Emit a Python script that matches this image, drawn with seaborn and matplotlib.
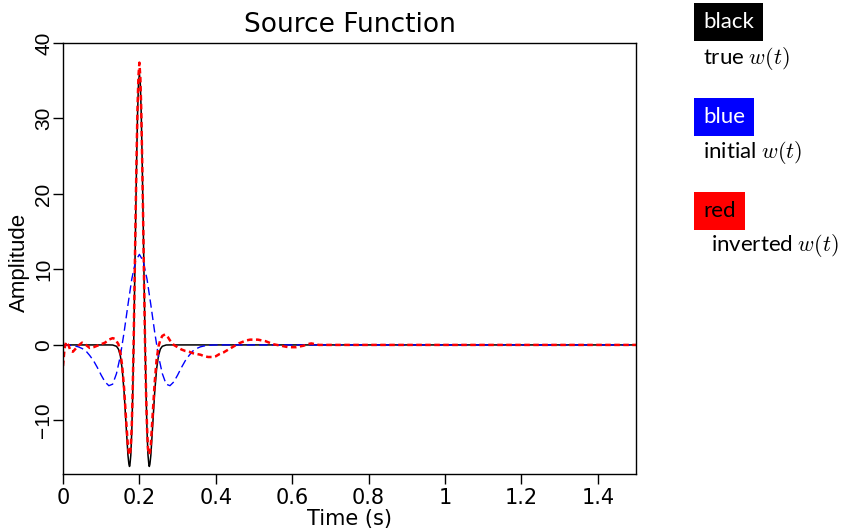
import numpy as np
import pandas as pd
import seaborn as sns
import matplotlib
matplotlib.use("Agg")
import matplotlib.pyplot as plt

# ---- data ----
t_true = [0.0, 0.12, 0.13, 0.14, 0.145, 0.15, 0.155, 0.16, 0.165, 0.17, 0.1725, 0.174, 0.175,
          0.1775, 0.18, 0.1825, 0.185, 0.1875, 0.19, 0.1925, 0.195, 0.1975, 0.2,
          0.2025, 0.205, 0.2075, 0.21, 0.2125, 0.215, 0.2175, 0.22, 0.2225, 0.225, 0.226,
          0.2275, 0.23, 0.235, 0.24, 0.245, 0.25, 0.255, 0.26, 0.27, 0.28, 1.5]
w_true = [0.0, 0.0, -0.01, -0.18, -0.54, -1.4, -3.2, -6.3, -10.5, -14.6, -15.8, -16.1, -16.0,
          -14.6, -11.5, -6.6, 0.0, 7.8, 16.0, 23.8, 30.3, 34.5, 36.0,
          34.5, 30.3, 23.8, 16.0, 7.8, 0.0, -6.6, -11.5, -14.6, -16.0, -16.1,
          -15.8, -14.6, -10.5, -6.3, -3.2, -1.4, -0.54, -0.18, -0.01, 0.0, 0.0]

t_init = [0.0, 0.01, 0.02, 0.03, 0.04, 0.05, 0.06, 0.07, 0.08, 0.09, 0.10, 0.11, 0.12,
          0.13, 0.14, 0.15, 0.16, 0.17, 0.18, 0.19, 0.20, 0.21, 0.22, 0.23, 0.24, 0.25,
          0.26, 0.27, 0.28, 0.29, 0.30, 0.31, 0.32, 0.33, 0.34, 0.35, 0.36, 0.37, 0.38,
          0.39, 0.40, 1.5]
w_init = [0.0, -0.02, -0.06, -0.13, -0.25, -0.47, -0.8, -1.4, -2.1, -3.0, -4.0, -4.9, -5.4,
          -5.2, -3.8, -1.5, 1.7, 5.3, 8.7, 11.1, 12.0, 11.1, 8.7, 5.3, 1.7, -1.5,
          -3.8, -5.2, -5.4, -4.9, -4.0, -3.0, -2.1, -1.4, -0.8, -0.47, -0.25, -0.13, -0.06,
          -0.02, 0.0, 0.0]

t_inv = [0.0, 0.004, 0.008, 0.014, 0.02, 0.026, 0.033, 0.04, 0.05, 0.06, 0.07, 0.08, 0.09,
         0.10, 0.11, 0.12, 0.13, 0.136, 0.14, 0.145, 0.15, 0.155, 0.16, 0.165, 0.17, 0.1725,
         0.175, 0.1775, 0.18, 0.1825, 0.185, 0.1875, 0.19, 0.1925, 0.195, 0.1975, 0.2,
         0.2025, 0.205, 0.2075, 0.21, 0.2125, 0.215, 0.2175, 0.22, 0.2225, 0.225, 0.2275,
         0.23, 0.235, 0.24, 0.245, 0.25, 0.255, 0.26, 0.267, 0.275, 0.28, 0.29, 0.30, 0.31,
         0.32, 0.33, 0.34, 0.35, 0.36, 0.37, 0.38, 0.39, 0.40, 0.41, 0.42, 0.43, 0.44, 0.45,
         0.46, 0.47, 0.48, 0.49, 0.50, 0.51, 0.52, 0.53, 0.54, 0.55, 0.56, 0.57, 0.58, 0.59,
         0.60, 0.61, 0.62, 0.63, 0.64, 0.65, 0.66, 0.67, 0.70, 1.5]
w_inv = [-2.8, -0.5, 0.4, 0.0, -0.8, -0.9, -0.5, -0.1, 0.3, 0.0, -0.4, -0.3, -0.1,
         0.1, 0.3, 0.7, 0.9, 0.8, 0.5, 0.1, -1.0, -2.8, -5.8, -9.8, -13.5, -14.3,
         -14.6, -13.5, -10.8, -6.0, 0.5, 8.5, 16.8, 24.6, 31.3, 35.6, 37.4,
         35.4, 30.8, 23.9, 16.0, 7.6, -0.4, -6.5, -11.0, -13.8, -14.5, -14.2,
         -13.2, -9.0, -5.0, -2.0, -0.2, 0.7, 1.2, 1.4, 1.0, 0.6, 0.0, -0.3, -0.6,
         -0.8, -0.9, -1.1, -1.2, -1.3, -1.5, -1.6, -1.6, -1.5, -1.2, -1.0, -0.7, -0.4, -0.1,
         0.2, 0.4, 0.6, 0.7, 0.7, 0.7, 0.6, 0.5, 0.3, 0.1, 0.0, -0.1, -0.2, -0.3,
         -0.3, -0.3, -0.2, -0.1, 0.1, 0.2, 0.1, 0.0, 0.0, 0.0]

x_ticks = [0, 0.2, 0.4, 0.6, 0.8, 1.0, 1.2, 1.4]
x_ticklabels = ["0", "0.2", "0.4", "0.6", "0.8", "1", "1.2", "1.4"]
y_ticks = [-10, 0, 10, 20, 30, 40]
y_ticklabels = ["\u221210", "0", "10", "20", "30", "40"]

# ---- plot ----
sns.set_style("ticks")
plt.rcParams['font.family'] = ['DejaVu Sans']
plt.rcParams['mathtext.fontset'] = 'cm'
plt.rcParams['text.color'] = 'black'
plt.rcParams['axes.labelcolor'] = 'black'
plt.rcParams['xtick.color'] = 'black'
plt.rcParams['ytick.color'] = 'black'

fig = plt.figure(figsize=(8.48, 5.28), dpi=100)
ax = fig.add_axes([63 / 848, 1 - 474 / 528, 573 / 848, 431 / 528])

sns.lineplot(x=t_true, y=w_true, ax=ax, color="black", linewidth=1.1, sort=False)
sns.lineplot(x=t_init, y=w_init, ax=ax, color="#0000ff", linewidth=1.0, sort=False)
ax.lines[-1].set_dashes((6, 3))
sns.lineplot(x=t_inv, y=w_inv, ax=ax, color="#ff0000", linewidth=1.8, sort=False)
ax.lines[-1].set_dashes((2.2, 1.4))

ax.set_xlim(0, 1.5)
ax.set_ylim(-17.1, 40)
ax.set_xticks(x_ticks)
ax.set_xticklabels(x_ticklabels, fontsize=15, color="black")
ax.set_yticks(y_ticks)
ax.set_yticklabels(y_ticklabels, fontsize=15, rotation=90, va="center",
                   family="Liberation Sans", color="black")
ax.tick_params(direction="out", length=7, width=1, colors="black")
ax.tick_params(axis="x", pad=3)
ax.tick_params(axis="y", pad=0)
for s in ax.spines.values():
    s.set_linewidth(1.0)
    s.set_color("black")
    s.set_visible(True)

ax.set_xlabel("Time (s)", fontsize=15, labelpad=1, color="black")
ax.set_ylabel("Amplitude", fontsize=16, family="Liberation Sans", color="black")
ax.yaxis.set_label_coords(-0.058, 0.49)
ax.set_title("Source Function", fontsize=19, pad=8, color="black")

# color key on the right
lbl_font = ["Lato", "DejaVu Sans"]
fs = 16
box = "square,pad=0.4"
fig.text(703 / 848, 1 - 22 / 528, "black", color="white", fontsize=fs, family=lbl_font,
         va="center", ha="left",
         bbox=dict(facecolor="black", edgecolor="none", boxstyle=box))
fig.text(703 / 848, 1 - 59 / 528, r"true $w(t)$", color="black", fontsize=fs,
         family=lbl_font, va="center", ha="left")
fig.text(703 / 848, 1 - 117 / 528, "blue", color="white", fontsize=fs, family=lbl_font,
         va="center", ha="left",
         bbox=dict(facecolor="#0000ff", edgecolor="none", boxstyle=box))
fig.text(703 / 848, 1 - 153 / 528, r"initial $w(t)$", color="black", fontsize=fs,
         family=lbl_font, va="center", ha="left")
fig.text(703 / 848, 1 - 211 / 528, "red", color="black", fontsize=fs, family=lbl_font,
         va="center", ha="left",
         bbox=dict(facecolor="#ff0000", edgecolor="none", boxstyle=box))
fig.text(711 / 848, 1 - 246 / 528, r"inverted $w(t)$", color="black", fontsize=fs,
         family=lbl_font, va="center", ha="left")

fig.savefig("out.png", dpi=100)
